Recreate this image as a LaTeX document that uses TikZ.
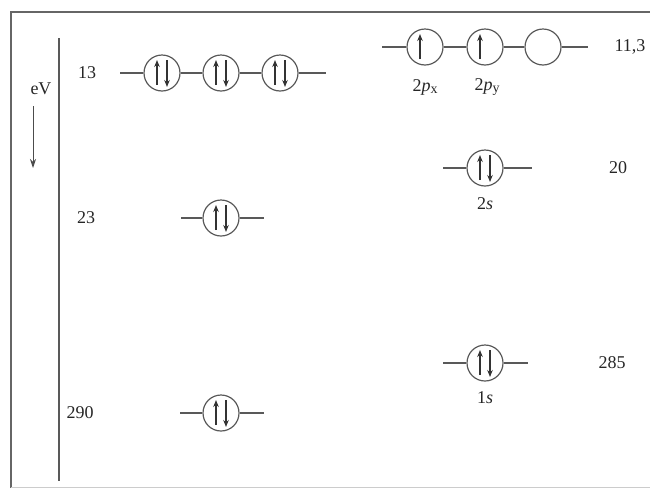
\documentclass[tikz,border=0pt]{standalone}
\usepackage{fontspec}
\setmainfont{Liberation Serif}
\usetikzlibrary{arrows.meta,calc}
\newcommand\updn[1]{%
  \draw[spin] ($(#1)+(-5,12)$) -- ($(#1)+(-5,-13)$);
  \draw[spin] ($(#1)+(5,-13)$) -- ($(#1)+(5,14)$);}
\newcommand\uponly[1]{%
  \draw[spin] ($(#1)+(-5,12)$) -- ($(#1)+(-5,-13)$);}
\begin{document}
\begin{tikzpicture}[x=1pt,y=-1pt,
  orb/.style={circle,draw=black!65,line width=1.2pt,minimum size=36pt,inner sep=0pt},
  lvl/.style={draw=black!65,line width=1.2pt},
  spin/.style={line width=1.1pt,black!80,-{Stealth[length=7pt,width=5.5pt]}},
  lab/.style={font=\fontsize{18}{21}\selectfont,text=black!85,inner sep=0pt},
  frame/.style={black!60,line width=2pt}]
\useasboundingbox (0,0) rectangle (650,488);
% frame
\coordinate (f1) at (11,488);
\coordinate (f2) at (11,12);
\coordinate (f3) at (650,12);
\draw[frame] (f1) -- (f2) -- (f3);
\coordinate (b1) at (11,487);
\coordinate (b2) at (650,487);
\draw[black!20,line width=1pt] (b1) -- (b2);
% energy axis
\coordinate (ax1) at (59,38);
\coordinate (ax2) at (59,481);
\draw[black!65,line width=1.5pt] (ax1) -- (ax2);
\node[lab] (ev) at (41,89) {eV};
\coordinate (ea1) at (33,106);
\coordinate (ea2) at (33,168);
\draw[black!70,line width=1pt,-{Stealth[length=9pt,width=6pt]}] (ea1) -- (ea2);
% left column: 13
\node[lab] (e13) at (87,73) {13};
\coordinate (l13a) at (120,73);
\coordinate (l13b) at (326,73);
\node[orb] (a1) at (162,73) {};
\node[orb] (a2) at (221,73) {};
\node[orb] (a3) at (280,73) {};
\draw[lvl] (l13a) -- (a1) -- (a2) -- (a3) -- (l13b);
\updn{a1}\updn{a2}\updn{a3}
% 23
\node[lab] (e23) at (86,218) {23};
\coordinate (l23a) at (181,218);
\coordinate (l23b) at (264,218);
\node[orb] (b) at (221,218) {};
\draw[lvl] (l23a) -- (b) -- (l23b);
\updn{b}
% 290
\node[lab] (e290) at (80,413) {290};
\coordinate (l290a) at (180,413);
\coordinate (l290b) at (264,413);
\node[orb] (c) at (221,413) {};
\draw[lvl] (l290a) -- (c) -- (l290b);
\updn{c}
% right column: 2p
\node[lab] (e113) at (630,47) {11,3};
\coordinate (p1a) at (382,47);
\coordinate (p1b) at (588,47);
\node[orb] (px) at (425,47) {};
\node[orb] (py) at (485,47) {};
\node[orb] (pz) at (543,47) {};
\draw[lvl] (p1a) -- (px) -- (py) -- (pz) -- (p1b);
\uponly{px}\uponly{py}
\node[lab] (lpx) at (425,87) {2\textit{p}\raisebox{-0.35ex}{\fontsize{14}{16}\selectfont x}};
\node[lab] (lpy) at (487,87) {2\textit{p}\raisebox{-0.35ex}{\fontsize{14}{16}\selectfont y}};
% 2s
\node[lab] (e20) at (618,168) {20};
\coordinate (s2a) at (443,168);
\coordinate (s2b) at (532,168);
\node[orb] (s2) at (485,168) {};
\draw[lvl] (s2a) -- (s2) -- (s2b);
\updn{s2}
\node[lab] (ls2) at (485,204) {2\textit{s}};
% 1s
\node[lab] (e285) at (612,363) {285};
\coordinate (s1a) at (443,363);
\coordinate (s1b) at (528,363);
\node[orb] (s1) at (485,363) {};
\draw[lvl] (s1a) -- (s1) -- (s1b);
\updn{s1}
\node[lab] (ls1) at (485,398) {1\textit{s}};
\end{tikzpicture}
\end{document}
